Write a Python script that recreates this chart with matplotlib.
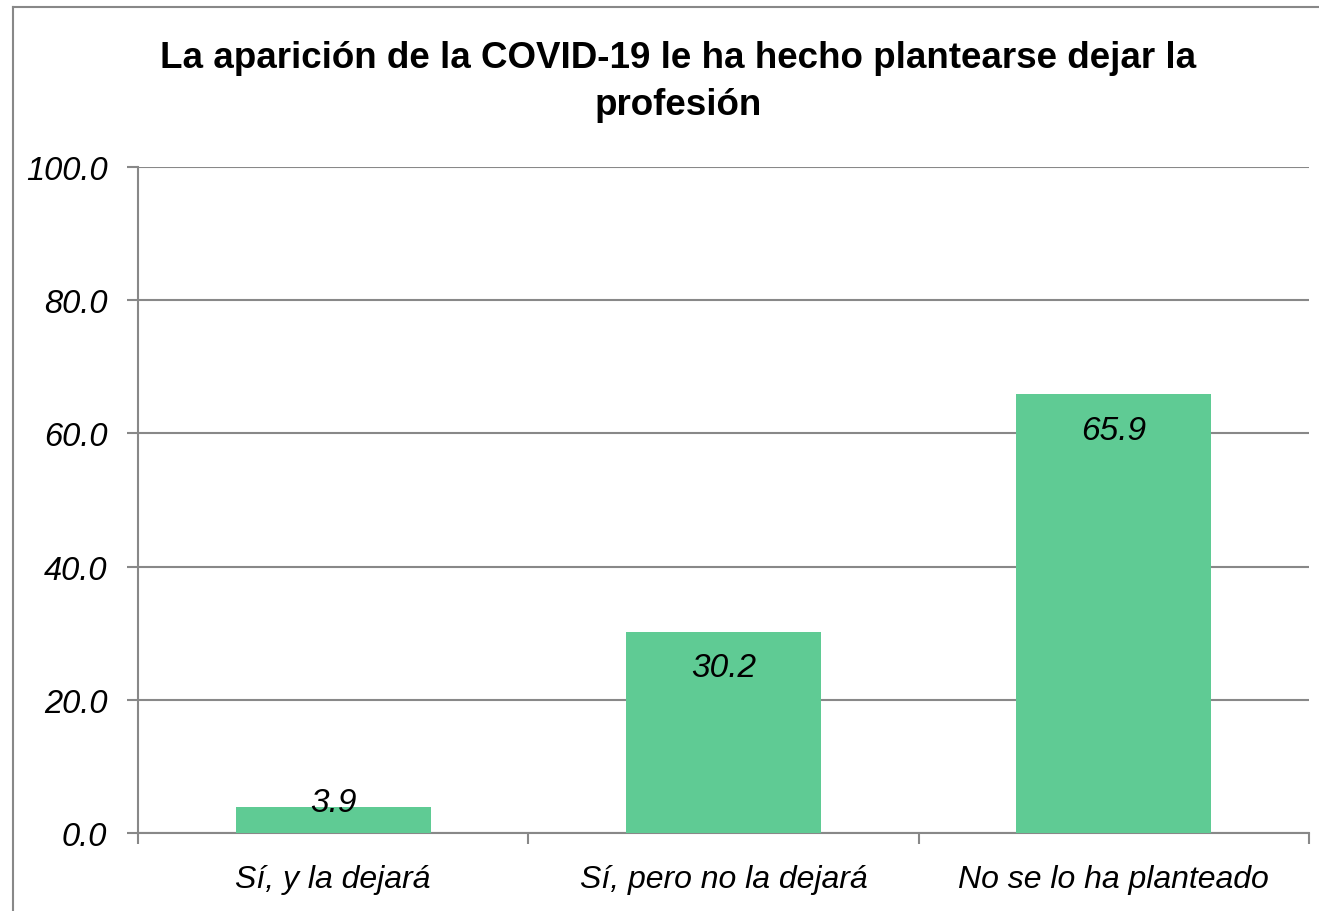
import numpy as np
import matplotlib.pyplot as plt
from matplotlib.lines import Line2D

# --- data ---
categories = ["Sí, y la dejará", "Sí, pero no la dejará", "No se lo ha planteado"]
values = [3.9, 30.2, 65.9]
yticks = [0, 20, 40, 60, 80, 100]

title = "La aparición de la COVID-19 le ha hecho plantearse dejar la\nprofesión"

plt.rcParams['font.family'] = ['Liberation Sans Narrow', 'Liberation Sans', 'DejaVu Sans']

bar_color = "#5fcb94"
grid_color = "#888888"

fig = plt.figure(figsize=(13.19, 9.12), dpi=100)
ax = fig.add_axes([0.1046, 0.0855, 0.8878, 0.7303])

x = np.arange(len(categories))
ax.bar(x, values, width=0.5, color=bar_color, zorder=3)

ax.set_xlim(-0.5, len(categories) - 0.5)
ax.set_ylim(0, 100)
ax.set_yticks(yticks)
ax.set_yticklabels([f"{t:.1f}" for t in yticks], fontsize=23.5, style='italic')
ax.grid(axis='y', color=grid_color, linewidth=1.5, zorder=0)

# category labels, ticks at category boundaries
ax.set_xticks(x)
ax.set_xticklabels(categories, fontsize=23, style='italic')
ax.tick_params(axis='x', which='major', length=0, pad=22)
ax.set_xticks(np.arange(-0.5, len(categories)), minor=True)
ax.tick_params(axis='x', which='minor', length=8, width=1.5, color=grid_color)
ax.tick_params(axis='y', length=8, width=1.5, color=grid_color, pad=14)

for s in ['top', 'right']:
    ax.spines[s].set_visible(False)
for s in ['left', 'bottom']:
    ax.spines[s].set_color(grid_color)
    ax.spines[s].set_linewidth(1.5)

# value labels inside the top of each bar
for xi, v in zip(x, values):
    if v > 8:
        ax.annotate(f"{v:.1f}", xy=(xi, v), xytext=(0, -26), textcoords='offset points',
                    ha='center', va='center', fontsize=24, style='italic', zorder=4)
    else:
        ax.annotate(f"{v:.1f}", xy=(xi, 0), xytext=(0, 22), textcoords='offset points',
                    ha='center', va='center', fontsize=24, style='italic', zorder=4)

fig.text(0.514, 0.91, title, ha='center', va='center', fontsize=26.5,
         fontweight='bold', linespacing=1.45)

# chart area border (left and top edges)
fig.add_artist(Line2D([0.0099, 0.0099], [0, 0.9912], color=grid_color, lw=1.5,
                      transform=fig.transFigure))
fig.add_artist(Line2D([0.0099, 1.0], [0.9912, 0.9912], color=grid_color, lw=1.5,
                      transform=fig.transFigure))

fig.savefig("out.png", dpi=100)
